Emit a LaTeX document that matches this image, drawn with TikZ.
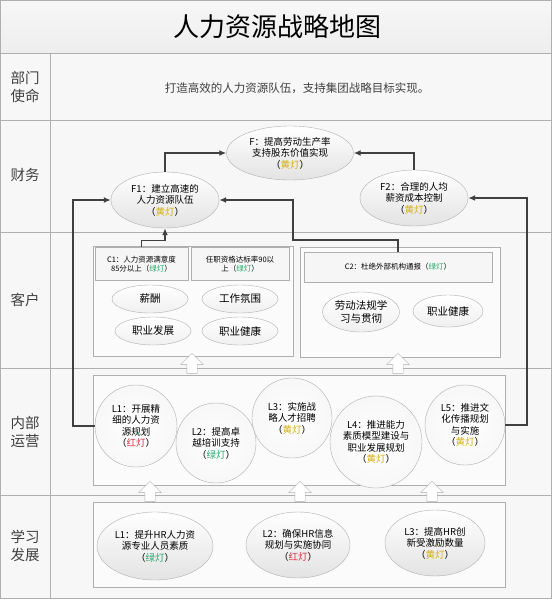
\documentclass[tikz,border=0pt]{standalone}
\usepackage{fontspec}
\setmainfont{Noto Sans CJK SC}
\usetikzlibrary{arrows.meta,positioning,shapes.geometric,shapes.arrows,calc}
\definecolor{lineg}{RGB}{64,64,64}
\definecolor{rimg}{RGB}{175,175,175}
\definecolor{bandg}{RGB}{247,247,247}
\definecolor{lampy}{RGB}{212,176,20}
\definecolor{lampg}{RGB}{40,170,110}
\definecolor{lampr}{RGB}{225,50,70}
\newcommand{\ylamp}{（\textcolor{lampy}{黄灯}）}
\newcommand{\glamp}{（\textcolor{lampg}{绿灯}）}
\newcommand{\rlamp}{（\textcolor{lampr}{红灯}）}

\begin{document}
\begin{tikzpicture}[x=1pt,y=-1pt,
    band/.style={draw=rimg,fill=bandg},
    rowlab/.style={font=\fontsize{14.5}{18}\selectfont,align=center,text=black!75},
    goal/.style={ellipse,draw=rimg,top color=white,bottom color=gray!22,align=center,
      inner sep=0pt,font=\fontsize{9.5}{11.5}\selectfont},
    tag/.style={ellipse,draw=rimg,top color=white,bottom color=gray!12,align=center,
      inner sep=1pt,minimum width=76pt,minimum height=28pt,font=\fontsize{10.5}{12.5}\selectfont},
    head/.style={draw=rimg,fill=gray!7,align=center,minimum height=33pt,
      font=\fontsize{7.5}{9.5}\selectfont},
    group/.style={draw=rimg,fill=gray!3},
    proc/.style={circle,draw=rimg,inner color=white,outer color=gray!6,align=center,
      inner sep=1pt,font=\fontsize{9.5}{11.5}\selectfont},
    uparr/.style={single arrow,draw=rimg,fill=white,inner sep=5pt,
      single arrow head extend=6pt,minimum height=20pt,shape border rotate=90},
    arr/.style={-{Latex[length=7pt,width=6pt]},line width=1.6pt,draw=lineg}
  ]
    \useasboundingbox (0,0) rectangle (554,602);
    % bands
    \shade[top color=gray!6,bottom color=gray!14,draw=rimg] (0,0) rectangle (551,53);
    \draw[band] (0,53) rectangle (50,120);   \draw[band] (50,53) rectangle (551,120);
    \draw[band] (0,120) rectangle (50,232);  \draw[band] (50,120) rectangle (551,232);
    \draw[band] (0,232) rectangle (50,368);  \draw[band] (50,232) rectangle (551,368);
    \draw[band] (0,368) rectangle (50,495);  \draw[band] (50,368) rectangle (551,495);
    \draw[band] (0,495) rectangle (50,598);  \draw[band] (50,495) rectangle (551,598);

    \node[font=\fontsize{26}{30}\selectfont] (title) at (277,27) {人力资源战略地图};
    \node[rowlab] (lmis) at (25,87) {部门\\使命};
    \node[rowlab] (lfin) at (25,175) {财务};
    \node[rowlab] (lcus) at (25,300) {客户};
    \node[rowlab] (lint) at (25,432) {内部\\运营};
    \node[rowlab] (llrn) at (25,546) {学习\\发展};
    \node[font=\fontsize{11.5}{14}\selectfont,text=black!75] (mission) at (297,88)
      {打造高效的人力资源队伍，支持集团战略目标实现。};

    % finance
    \node[goal,minimum width=127pt,minimum height=54pt] (f) at (290,153)
      {F：提高劳动生产率\\支持股东价值实现\\\ylamp};
    \node[goal,minimum width=108pt,minimum height=56pt] (f1) at (165,200)
      {F1：建立高速的\\人力资源队伍\\\ylamp};
    \node[goal,minimum width=108pt,minimum height=56pt] (f2) at (414,198)
      {F2：合理的人均\\薪资成本控制\\\ylamp};

    % customer
    \node[group,minimum width=200pt,minimum height=110pt] (cgl) at (193,301) {};
    \node[group,minimum width=200pt,minimum height=110pt] (cgr) at (400,302) {};
    \node[head,minimum width=93pt] (c1) at (141.5,264) {C1：人力资源满意度\\85分以上\glamp};
    \node[head,minimum width=98pt] (c1b) at (240,264) {任职资格达标率90以\\上\glamp};
    \node[head,minimum width=188pt,minimum height=30pt] (c2) at (398,267) {C2：杜绝外部机构通报\glamp};
    \node[tag] (pay) at (150,299) {薪酬};
    \node[tag] (mood) at (240,299) {工作氛围};
    \node[tag] (career) at (153,331) {职业发展};
    \node[tag] (health) at (240,331) {职业健康};
    \node[tag,minimum height=40pt] (law) at (361,312) {劳动法规学\\习与贯彻};
    \node[tag,minimum width=70pt,minimum height=32pt] (health2) at (448,311) {职业健康};

    % internal
    \node[group,minimum width=412pt,minimum height=110pt] (ibox) at (299,430) {};
    \node[proc,minimum size=82pt] (i1) at (136,426) {L1：开展精\\细的人力资\\源规划\\\rlamp};
    \node[proc,minimum size=80pt] (i2) at (216,443) {L2：提高卓\\越培训支持\\\glamp};
    \node[proc,minimum size=80pt] (i3) at (292,418) {L3：实施战\\略人才招聘\\\ylamp};
    \node[proc,minimum size=92pt] (i4) at (376,442) {L4：推进能力\\素质模型建设与\\职业发展规划\\\ylamp};
    \node[proc,minimum size=80pt] (i5) at (465,425) {L5：推进文\\化传播规划\\与实施\\\ylamp};

    % learning
    \node[group,minimum width=412pt,minimum height=85pt] (lbox) at (299,544.5) {};
    \node[goal,minimum width=116pt,minimum height=68pt] (g1) at (155,546)
      {L1：提升HR人力资\\源专业人员素质\\\glamp};
    \node[goal,minimum width=104pt,minimum height=66pt] (g2) at (298,545)
      {L2：确保HR信息\\规划与实施协同\\\rlamp};
    \node[goal,minimum width=100pt,minimum height=66pt] (g3) at (435,543)
      {L3：提高HR创\\新受激励数量\\\ylamp};

    % block arrows
    \node[uparr] (ua1) at (192,366) {};
    \node[uparr] (ua2) at (398,366) {};
    \node[uparr] (ub1) at (150,494) {};
    \node[uparr] (ub2) at (300,494) {};
    \node[uparr] (ub3) at (432,494) {};

    % connectors
    \coordinate (bendc2) at (293,240);
    \draw[arr] (f1.north) |- (f.west);
    \draw[arr] (f2.north) |- (f.east);
    \draw[arr] (c1.north) -- ++(0,-7) -| (f1.south);
    \draw[arr] (c2.north) |- (bendc2) |- (f1.east);
    \draw[arr] (i1.west) -- ++(-22,0) |- (f1.west);
    \draw[arr] (i5.east) -- ++(22,0) |- (f2.east);
  \end{tikzpicture}
\end{document}
